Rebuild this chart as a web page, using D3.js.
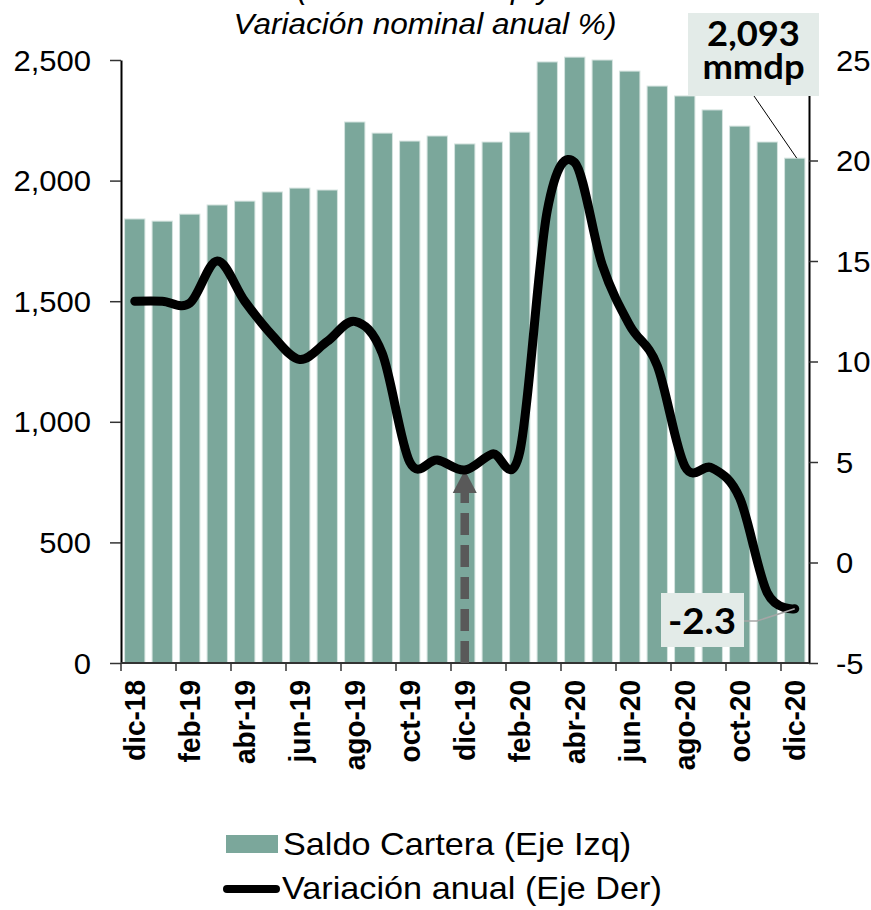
<!DOCTYPE html>
<html>
<head>
<meta charset="utf-8">
<script src="https://cdn.jsdelivr.net/npm/d3@7"></script>
<style>
  html, body { margin: 0; padding: 0; background: #ffffff; }
  svg { display: block; }
</style>
</head>
<body>
<div id="chart"></div>
<script>
const months = ["dic-18","ene-19","feb-19","mar-19","abr-19","may-19","jun-19","jul-19","ago-19","sep-19","oct-19","nov-19","dic-19","ene-20","feb-20","mar-20","abr-20","may-20","jun-20","jul-20","ago-20","sep-20","oct-20","nov-20","dic-20"];
const saldo = [1841,1832,1861,1899,1915,1953,1969,1961,2243,2197,2164,2185,2152,2160,2201,2492,2512,2500,2454,2392,2351,2293,2226,2160,2093];
const variacion = [13.0,13.0,12.9,15.0,13.0,11.3,10.1,11.0,12.0,10.4,5.0,5.1,4.6,5.4,5.5,17.5,19.9,14.8,11.8,9.8,4.8,4.7,3.2,-1.5,-2.3];
const leftTicks = [0,500,1000,1500,2000,2500];
const rightTicks = [-5,0,5,10,15,20,25];
const titleLines = ["(Saldo en mmdp y", "Variación nominal anual %)"];
const legendLabels = ["Saldo Cartera (Eje Izq)", "Variación anual (Eje Der)"];
const annotSaldo = ["2,093", "mmdp"];
const annotVar = "-2.3";
const arrowMonth = "dic-19";

const W = 871, H = 910;
const SX = 1.07; // horizontal text stretch
const FONT = "'Liberation Sans', Arial, Helvetica, sans-serif";
const BAR = "#7ba79b";
const LINE = "#000000";

const svg = d3.select("#chart").append("svg").attr("width", W).attr("height", H);

const x = d3.scaleBand().domain(months).range([121, 808.5]).paddingInner(0.26).paddingOuter(0.13);
const yL = d3.scaleLinear().domain([0, 2500]).range([663, 60]);
const yR = d3.scaleLinear().domain([-5, 25]).range([663, 60]);

function stext(g, tx, ty, str, opts) {
  const t = g.append("text")
    .attr("transform", `translate(${tx},${ty}) scale(${SX},1)` + (opts.rotate ? ` rotate(${opts.rotate})` : ""))
    .attr("font-family", opts.family || FONT)
    .attr("font-size", opts.size)
    .attr("font-weight", opts.weight || "normal")
    .attr("font-style", opts.style || "normal")
    .attr("text-anchor", opts.anchor || "start")
    .attr("fill", opts.fill || "#000")
    .text(str);
  if (opts.dy) t.attr("dy", opts.dy);
  return t;
}

// Title (first line cut off by top edge)
stext(svg, 425, -1, titleLines[0], {size: 29.5, style: "italic", anchor: "middle"});
stext(svg, 425, 34, titleLines[1], {size: 29.5, style: "italic", anchor: "middle"});

// Bars
svg.append("g").selectAll("rect").data(months).join("rect")
  .attr("x", d => x(d))
  .attr("width", x.bandwidth())
  .attr("y", (d, i) => yL(saldo[i]))
  .attr("height", (d, i) => yL(0) - yL(saldo[i]))
  .attr("fill", BAR)
  .attr("stroke", "#d6e4e0")
  .attr("stroke-width", 1);

// Left axis
const axL = svg.append("g").attr("transform", "translate(121,0)")
  .call(d3.axisLeft(yL).tickValues(leftTicks).tickSize(11).tickSizeOuter(0).tickFormat(d3.format(",")));
axL.select(".domain").attr("stroke", "#000").attr("stroke-width", 2);
axL.selectAll(".tick line").attr("stroke", "#333").attr("stroke-width", 1.5);
axL.selectAll(".tick text").attr("x", null).attr("dy", "0.35em")
  .attr("transform", `translate(-30,0) scale(${SX},1)`)
  .attr("font-family", FONT).attr("font-size", 29).attr("fill", "#000").attr("text-anchor", "end");

// Right axis
const axR = svg.append("g").attr("transform", "translate(809,0)")
  .call(d3.axisRight(yR).tickValues(rightTicks).tickSize(9).tickSizeOuter(0).tickFormat(d => String(d)));
axR.select(".domain").attr("stroke", "#000").attr("stroke-width", 2);
axR.selectAll(".tick line").attr("stroke", "#333").attr("stroke-width", 1.5);
axR.selectAll(".tick text").attr("x", null).attr("dy", "0.35em")
  .attr("transform", `translate(27,0) scale(${SX},1)`)
  .attr("font-family", FONT).attr("font-size", 29).attr("fill", "#000").attr("text-anchor", "start");

// Bottom axis
const gx = svg.append("g");
gx.append("line").attr("x1", 121).attr("x2", 809).attr("y1", 663).attr("y2", 663)
  .attr("stroke", "#333").attr("stroke-width", 2);
const labelled = months.filter((d, i) => i % 2 === 0);
const half = x.step() * x.paddingInner() / 2;
gx.selectAll("line.tk").data(labelled).join("line").attr("class", "tk")
  .attr("x1", d => x(d) - half).attr("x2", d => x(d) - half)
  .attr("y1", 663).attr("y2", 671).attr("stroke", "#333").attr("stroke-width", 1.5);
labelled.forEach(d => {
  stext(gx, x(d) + x.bandwidth() / 2, 680, d, {size: 28, weight: "bold", anchor: "end", rotate: -90, dy: "0.35em"});
});

// Dashed arrow (dic-19)
const ax = x(arrowMonth) + x.bandwidth() / 2;
const tipY = yR(variacion[months.indexOf(arrowMonth)]);
svg.append("line").attr("x1", ax).attr("x2", ax).attr("y1", 663).attr("y2", tipY + 22)
  .attr("stroke", "#595959").attr("stroke-width", 8.5).attr("stroke-dasharray", "22,10");
svg.append("path")
  .attr("d", `M${ax},${tipY} L${ax - 12},${tipY + 23} L${ax + 12},${tipY + 23} Z`)
  .attr("fill", "#595959");

// Line
const line = d3.line()
  .x((d, i) => x(months[i]) + x.bandwidth() / 2)
  .y(d => yR(d))
  .curve(d3.curveCardinal.tension(0));
svg.append("path").datum(variacion)
  .attr("d", line)
  .attr("fill", "none")
  .attr("stroke", LINE)
  .attr("stroke-width", 9)
  .attr("stroke-linecap", "round")
  .attr("stroke-linejoin", "round");

// Annotation: last saldo
const lastX = x(months[months.length - 1]) + x.bandwidth() / 2;
svg.append("line").attr("x1", 754).attr("y1", 96).attr("x2", lastX + 2).attr("y2", yL(saldo[saldo.length - 1]))
  .attr("stroke", "#000").attr("stroke-width", 1);
svg.append("rect").attr("x", 688).attr("y", 13).attr("width", 131).attr("height", 83).attr("fill", "#e3ebe8");
stext(svg, 753.5, 46, annotSaldo[0], {size: 34, weight: "bold", anchor: "middle", family: "Lato, 'Open Sans', sans-serif"});
stext(svg, 753.5, 79, annotSaldo[1], {size: 34, weight: "bold", anchor: "middle", family: "Lato, 'Open Sans', sans-serif"});

// Annotation: last variation
const lvY = yR(variacion[variacion.length - 1]);
svg.append("polyline").attr("points", `744,621 757,621 ${lastX},${lvY}`)
  .attr("fill", "none").attr("stroke", "#a6a6a6").attr("stroke-width", 1.5);
svg.append("rect").attr("x", 661).attr("y", 593).attr("width", 83).attr("height", 54).attr("fill", "#e3ebe8");
stext(svg, 702, 634, annotVar, {size: 36, weight: "bold", anchor: "middle", family: "Lato, 'Open Sans', sans-serif"});

// Legend
const lg = svg.append("g");
lg.append("rect").attr("x", 226).attr("y", 835).attr("width", 52).attr("height", 18).attr("fill", BAR);
stext(lg, 283, 855, legendLabels[0], {size: 32});
lg.append("line").attr("x1", 227).attr("x2", 276).attr("y1", 889).attr("y2", 889)
  .attr("stroke", LINE).attr("stroke-width", 8).attr("stroke-linecap", "round");
stext(lg, 282, 899, legendLabels[1], {size: 32});
</script>
</body>
</html>
